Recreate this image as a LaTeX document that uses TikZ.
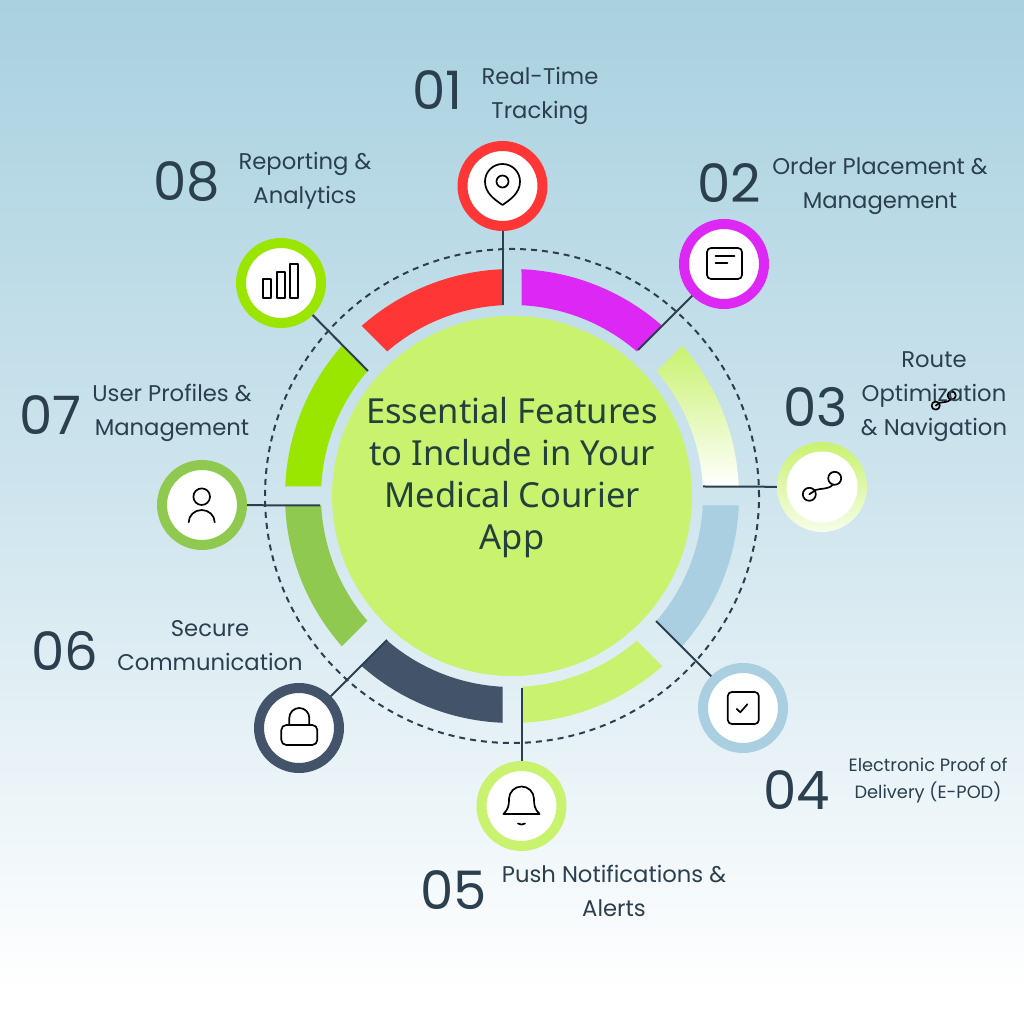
\documentclass[tikz,border=0pt]{standalone}
\usepackage{fontspec}
\setmainfont{Poppins}
\newfontfamily\titlefont{Noto Sans}
\definecolor{ink}{HTML}{2B3F4E}
\definecolor{titleink}{HTML}{22403C}
\definecolor{cRed}{HTML}{FF3636}
\definecolor{cMag}{HTML}{DD27F5}
\definecolor{cLime}{HTML}{C9F26F}
\definecolor{cBlue}{HTML}{A9CFE0}
\definecolor{cSlate}{HTML}{435369}
\definecolor{cGreen}{HTML}{90C94F}
\definecolor{cBright}{HTML}{9AE600}
\definecolor{bgTop}{HTML}{A9D1E0}
\definecolor{bgMid}{HTML}{CFE5EE}
% segment: options, low ray angle, high ray angle, offset at low ray, offset at high ray
\newcommand{\seg}[5]{%
  \pgfmathsetmacro{\oA}{#2+asin(#4/227)}\pgfmathsetmacro{\oB}{#3-asin(#5/227)}%
  \pgfmathsetmacro{\iA}{#2+asin(#4/191)}\pgfmathsetmacro{\iB}{#3-asin(#5/191)}%
  \path[#1] (\oA:227) arc[start angle=\oA,end angle=\oB,radius=227] -- (\iB:191) arc[start angle=\iB,end angle=\iA,radius=191] -- cycle;}
\newcommand{\routeicon}[2]{%
  \begin{scope}[shift={(#1)},scale=#2]
    \draw[ico] (-12.7,-7.3) circle[radius=6.5];
    \draw[ico] (12.7,8.7) circle[radius=6.5];
    \draw[ico] (-12.7,-7.3) -- (-6.3,-3) .. controls (-1,-1) and (6,-3) .. (11.3,2.6);
  \end{scope}}
\tikzset{
  badge/.style={circle,draw=#1,line width=10pt,fill=white,minimum size=80pt,inner sep=0pt},
  link/.style={draw=ink,line width=2pt},
  ico/.style={draw=black,line width=1.7pt,line join=round,line cap=round,fill=none},
  lab/.style={text=ink,font=\fontsize{22.7}{34}\selectfont,align=center,inner sep=0pt},
  labsm/.style={text=ink,font=\fontsize{17.8}{27}\selectfont,align=center,inner sep=0pt},
  num/.style={text=ink,font=\fontsize{53}{53}\selectfont,inner sep=0pt,anchor=base},
}
\begin{document}
\begin{tikzpicture}[x=1pt,y=1pt]
\useasboundingbox (0,0) rectangle (1024,1024);
% background
\shade[top color=bgTop,bottom color=bgMid] (0,1024) rectangle (1024,524);
\shade[top color=bgMid,bottom color=white] (0,524.5) rectangle (1024,30);
\fill[white] (0,0) rectangle (1024,30.5);
% hub
\node[circle,draw=ink,line width=2pt,dash pattern=on 6pt off 5pt,minimum size=494pt,inner sep=0pt] (orbit) at (512,528) {};
\begin{scope}[shift={(512,528)}]
  \seg{fill=cRed}{90}{135}{9.5}{14}
  \seg{fill=cMag}{45}{90}{14}{9.5}
  \seg{top color=cLime,middle color=cLime,bottom color=white}{0}{45}{9.5}{14}
  \seg{fill=cBlue}{-45}{0}{14}{9.5}
  \seg{fill=cLime}{-90}{-45}{9.5}{14}
  \seg{fill=cSlate}{-135}{-90}{14}{9.5}
  \seg{fill=cGreen}{180}{225}{9.5}{14}
  \seg{fill=cBright}{135}{180}{14}{9.5}
\end{scope}
\node[circle,fill=cLime,minimum size=360pt,inner sep=0pt] (core) at (512,528) {};
\node[text=titleink,align=center,inner sep=0pt,font=\titlefont\fontsize{34.5}{41.7}\selectfont] (title) at (512,546.5) {Essential Features\\to Include in Your\\Medical Courier\\App};
% badges
\node[badge=cRed] (n1) at (502.5,838) {};
\node[badge=cMag] (n2) at (724,760) {};
\node[circle,top color=cLime,bottom color=cLime!15!white,minimum size=90pt,inner sep=0pt] (n3) at (822,537) {};
\fill[white] (822,537) circle[radius=35.5];
\node[badge=cBlue] (n4) at (743,316) {};
\node[badge=cLime] (n5) at (521.5,218) {};
\node[badge=cSlate] (n6) at (299,296) {};
\node[badge=cGreen] (n7) at (202,519) {};
\node[badge=cBright] (n8) at (281,741) {};
% connector ends
\coordinate (e1) at (502.5,719);
\coordinate (e2) at (638,674);
\coordinate (e3) at (703,537.5);
\coordinate (e4) at (656,403);
\coordinate (e5) at (521.5,336);
\coordinate (e6) at (387,384);
\coordinate (e7) at (320,518.5);
\coordinate (e8) at (368,653);
\foreach \k in {1,...,8} {\draw[link] (n\k) -- (e\k);}
% icons
\begin{scope}[shift={(502.5,838)}]
  \draw[ico] (0,-19) .. controls (-8,-13.5) and (-17.5,-7) .. (-17.5,4.5) arc[start angle=180,end angle=0,radius=17.5] .. controls (17.5,-7) and (8,-13.5) .. (0,-19) -- cycle;
  \draw[ico] (0,4.5) circle[radius=6];
\end{scope}
\begin{scope}[shift={(724.5,760.5)}]
  \draw[ico,rounded corners=4pt] (-17.5,-15.5) rectangle (17.5,15.5);
  \draw[ico] (-9,7.5) -- (10,7.5);
  \draw[ico] (-9,0.5) -- (3,0.5);
\end{scope}
\routeicon{822,537}{1}
\routeicon{943.7,623}{0.63}
\begin{scope}[shift={(743.3,316)}]
  \draw[ico,rounded corners=4pt] (-15.5,-16) rectangle (15.5,16);
  \draw[ico] (-6.5,-1) -- (-3,-4.3) -- (4,3.7);
\end{scope}
\begin{scope}[shift={(521.5,218)}]
  \draw[ico] (-18,-8) -- (18,-8);
  \draw[ico] (-18,-8) .. controls (-13,-3) and (-12.5,1) .. (-12.5,7) arc[start angle=180,end angle=0,radius=12.5] .. controls (12.5,1) and (13,-3) .. (18,-8);
  \draw[ico] (-3.5,-17.5) .. controls (-1.5,-19) and (1.5,-19) .. (3.5,-17.5);
\end{scope}
\begin{scope}[shift={(299.3,296)}]
  \draw[ico,rounded corners=5pt] (-18,-17) rectangle (18,3);
  \draw[ico] (-10,3) -- (-10,10) arc[start angle=180,end angle=0,radius=10] -- (10,3);
\end{scope}
\begin{scope}[shift={(201.7,519)}]
  \draw[ico] (0,8.3) circle[radius=8.3];
  \draw[ico] (-13,-17.3) arc[start angle=180,end angle=0,x radius=13,y radius=12.3];
\end{scope}
\begin{scope}[shift={(281,741)}]
  \draw[ico] (-17.7,-15.3) rectangle (-10,3.7);
  \draw[ico] (-4.3,-15.3) rectangle (3.7,11.3);
  \draw[ico] (8.7,-15.3) rectangle (16.7,18.7);
\end{scope}
% numbers
\node[num] (d1) at (437.5,914.5) {01};
\node[num] (d2) at (729,821.5) {02};
\node[num] (d3) at (815.5,597.5) {03};
\node[num] (d4) at (797,214.5) {04};
\node[num] (d5) at (453.5,114.5) {05};
\node[num] (d6) at (64.5,353.5) {06};
\node[num] (d7) at (50.5,589.5) {07};
\node[num] (d8) at (186.5,823.5) {08};
% labels
\node[lab] (t1) at (540,928) {Real-Time\\Tracking};
\node[lab] (t2) at (880,838) {Order Placement \&\\Management};
\node[lab] (t3) at (934,627.5) {Route\\Optimization\\\& Navigation};
\node[labsm] (t4) at (928,243.5) {Electronic Proof of\\Delivery (E-POD)};
\node[lab] (t5) at (614,133.5) {Push Notifications \&\\Alerts};
\node[lab] (t6) at (210,378) {Secure\\Communication};
\node[lab] (t7) at (172,611) {User Profiles \&\\Management};
\node[lab] (t8) at (305,843) {Reporting \&\\Analytics};
\end{tikzpicture}
\end{document}
